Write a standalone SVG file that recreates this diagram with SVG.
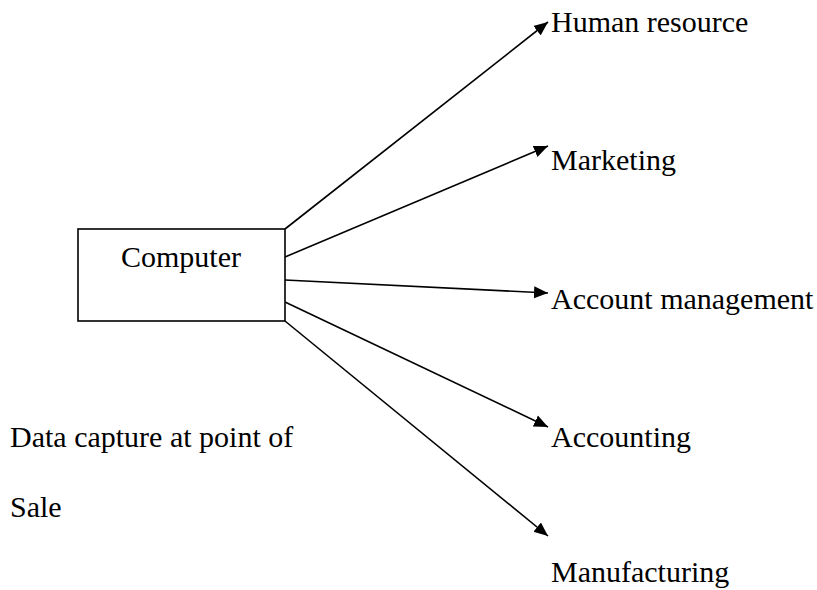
<svg xmlns="http://www.w3.org/2000/svg" width="817" height="590" viewBox="0 0 817 590">
<style>
text{font-family:"Liberation Serif","Times New Roman",serif;font-size:30px;fill:#000}
.box{fill:#fff;stroke:#000;stroke-width:1.6}
.conn line{stroke:#000;stroke-width:1.6}
</style>
<defs>
<marker id="ah" markerUnits="userSpaceOnUse" markerWidth="15" markerHeight="13" refX="14" refY="6.5" orient="auto">
<path d="M0,0.5 L14,6.5 L0,12.5 z" fill="#000"/>
</marker>
</defs>
<rect width="817" height="590" fill="#fff"/>
<g id="connectors" class="conn">
<line x1="285" y1="229" x2="548" y2="22" marker-end="url(#ah)"/>
<line x1="285" y1="257" x2="548" y2="146" marker-end="url(#ah)"/>
<line x1="285" y1="280" x2="548" y2="293" marker-end="url(#ah)"/>
<line x1="285" y1="302" x2="548" y2="427" marker-end="url(#ah)"/>
<line x1="285" y1="321" x2="548" y2="536" marker-end="url(#ah)"/>
</g>
<g id="computer">
<rect class="box" x="78" y="229" width="207" height="92"/>
<text x="121" y="267">Computer</text>
</g>
<g id="human-resource"><text x="551" y="32">Human resource</text></g>
<g id="marketing"><text x="551" y="170">Marketing</text></g>
<g id="account-management"><text x="551" y="309">Account management</text></g>
<g id="accounting"><text x="551" y="447">Accounting</text></g>
<g id="manufacturing"><text x="551" y="582">Manufacturing</text></g>
<g id="data-capture">
<text x="10" y="447">Data capture at point of</text>
<text x="10" y="517">Sale</text>
</g>
</svg>
